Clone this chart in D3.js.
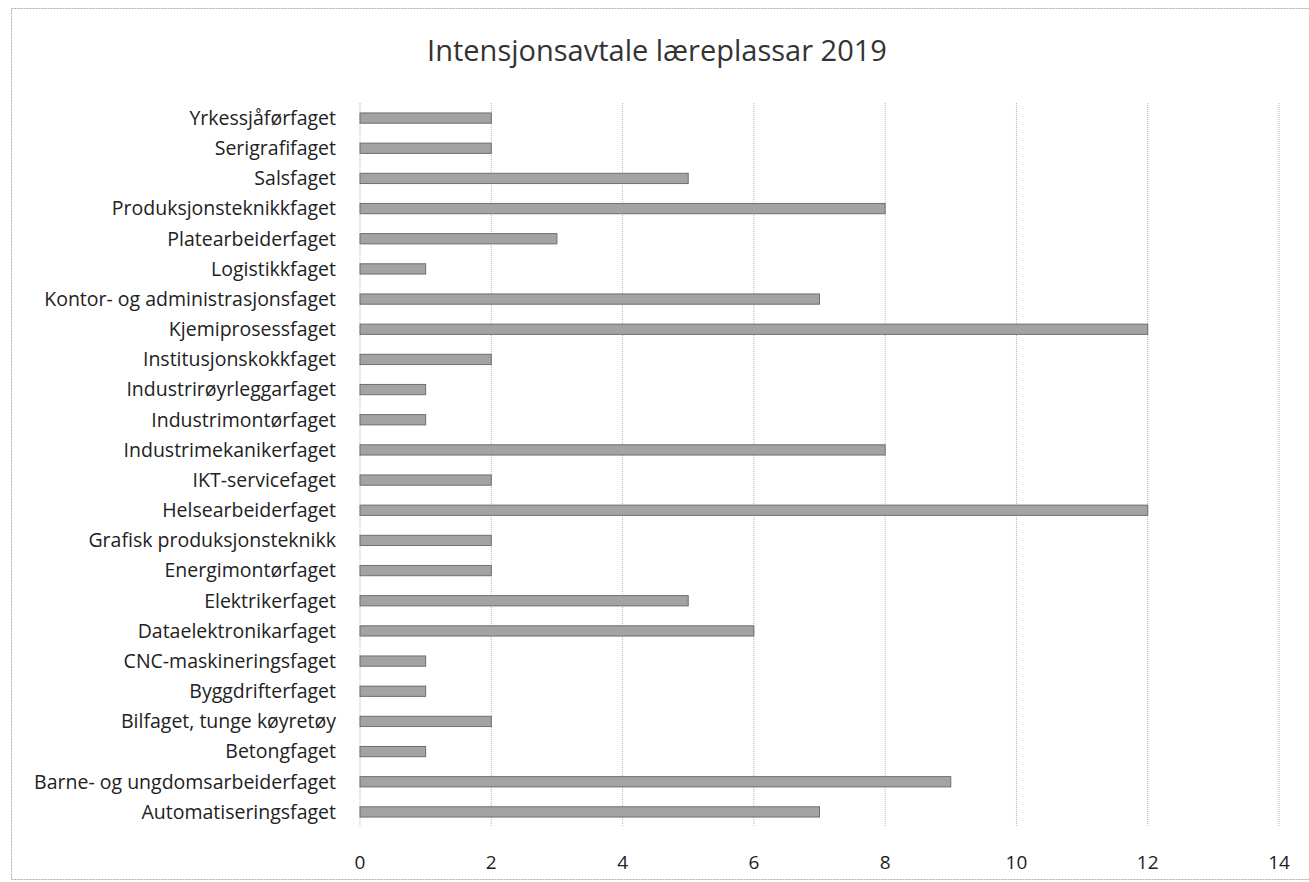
<!DOCTYPE html>
<html><head><meta charset="utf-8">
<script src="https://cdn.jsdelivr.net/npm/d3@7"></script>
<style>body{margin:0;background:#fff;} svg{display:block;font-family:"Open Sans",Lato,sans-serif;}</style>
</head><body>
<svg id="chart" width="1309" height="882"></svg>
<script>
const title = "Intensjonsavtale læreplassar 2019";
const categories = ["Yrkessjåførfaget","Serigrafifaget","Salsfaget","Produksjonsteknikkfaget","Platearbeiderfaget","Logistikkfaget","Kontor- og administrasjonsfaget","Kjemiprosessfaget","Institusjonskokkfaget","Industrirøyrleggarfaget","Industrimontørfaget","Industrimekanikerfaget","IKT-servicefaget","Helsearbeiderfaget","Grafisk produksjonsteknikk","Energimontørfaget","Elektrikerfaget","Dataelektronikarfaget","CNC-maskineringsfaget","Byggdrifterfaget","Bilfaget, tunge køyretøy","Betongfaget","Barne- og ungdomsarbeiderfaget","Automatiseringsfaget"];
const values = [2,2,5,8,3,1,7,12,2,1,1,8,2,12,2,2,5,6,1,1,2,1,9,7];
const xTicks = [0,2,4,6,8,10,12,14];

(function(){
const svg = d3.select("#chart");
const pl = 360, pr = 1279, pt = 103, pb = 827;
const x = d3.scaleLinear().domain([0,14]).range([pl,pr]);
const y = d3.scaleBand().domain(categories).range([pt,pb]).paddingInner(0.66).paddingOuter(0.33);

svg.append("rect").attr("x",11.5).attr("y",8.5).attr("width",1310).attr("height",871)
  .attr("fill","none").attr("stroke","#aaa").attr("stroke-dasharray","2,1");

svg.append("text").attr("x",657).attr("y",61).attr("text-anchor","middle")
  .attr("font-size",29).attr("fill","#333").text(title);

svg.append("g").selectAll("line").data(xTicks).join("line")
  .attr("x1",d=>x(d)).attr("x2",d=>x(d)).attr("y1",pt).attr("y2",pb)
  .attr("stroke","#b5b5b5").attr("stroke-width",1).attr("stroke-dasharray","1,1");

svg.append("g").selectAll("rect").data(categories).join("rect")
  .attr("x",x(0)).attr("y",d=>y(d))
  .attr("width",(d,i)=>x(values[i])-x(0)).attr("height",y.bandwidth())
  .attr("fill","#a3a3a3").attr("stroke","#6e6e6e").attr("stroke-width",1);

svg.append("g").selectAll("text").data(categories).join("text")
  .attr("x",336).attr("y",d=>y(d)+y.bandwidth()/2).attr("dy","0.35em")
  .attr("text-anchor","end").attr("font-size",19.5).attr("fill","#222").text(d=>d);

svg.append("g").selectAll("text").data(xTicks).join("text")
  .attr("x",d=>x(d)).attr("y",869).attr("text-anchor","middle")
  .attr("font-size",19).attr("fill","#222").text(d=>d);
})();
</script>
</body></html>
